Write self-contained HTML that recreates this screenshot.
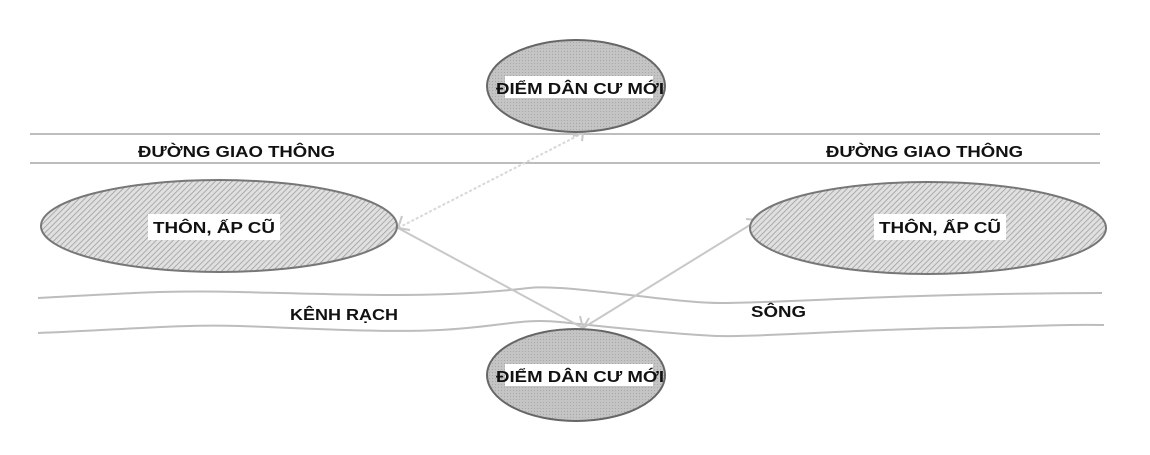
<!DOCTYPE html>
<html><head><meta charset="utf-8"><style>
html,body{margin:0;padding:0;background:#fff;width:1150px;height:455px;overflow:hidden}
svg{display:block}
text{font-family:"Liberation Sans",sans-serif;font-weight:bold;font-size:16px;fill:#111}
</style></head><body>
<svg width="1150" height="455" viewBox="0 0 1150 455">
<defs>
<pattern id="h" width="4" height="4" patternUnits="userSpaceOnUse" patternTransform="rotate(45)">
<rect width="4" height="4" fill="#e0e0e0"/><line x1="0" y1="0" x2="0" y2="4" stroke="#9a9a9a" stroke-width="1.5"/></pattern>
<pattern id="d" width="3" height="3" patternUnits="userSpaceOnUse">
<rect width="3" height="3" fill="#c4c4c4"/><rect width="1" height="1" fill="#a8a8a8"/></pattern>
</defs>
<g stroke="#bdbdbd" stroke-width="2" fill="none">
<line x1="30" y1="134" x2="1100" y2="134"/>
<line x1="30" y1="163" x2="1100" y2="163"/>
<path d="M38 298 C120 294 160 290 240 292 S400 297 470 293 S520 286 560 288 S680 303 720 303 S850 298 920 296 S1050 293 1102 293"/>
<path d="M38 333 C120 330 180 324 240 326 S380 333 440 330 S520 318 560 322 S680 335 720 336 S850 330 950 328 S1060 324 1104 325"/>
</g>
<g stroke="#c8c8c8" stroke-width="2" fill="none">
<line x1="398" y1="228" x2="583" y2="133" stroke-dasharray="3 2" stroke="#d8d8d8"/>
<line x1="398" y1="228" x2="583" y2="328"/>
<line x1="583" y1="328" x2="758" y2="220"/>
<path d="M398 228 l4 -12 M398 228 l12 2 M583 328 l-3 -12 M583 328 l6 -10 M758 220 l-12 -1 M758 220 l-5 11 M583 133 l-10 3 M583 133 l-1 8"/>
</g>
<ellipse cx="219" cy="226" rx="178" ry="46" fill="url(#h)" stroke="#777" stroke-width="2"/>
<ellipse cx="928" cy="228" rx="178" ry="46" fill="url(#h)" stroke="#777" stroke-width="2"/>
<ellipse cx="576" cy="86" rx="89" ry="46" fill="url(#d)" stroke="#666" stroke-width="2"/>
<ellipse cx="576" cy="375" rx="89" ry="46" fill="url(#d)" stroke="#666" stroke-width="2"/>
<rect x="148" y="214" width="132" height="26" fill="#fff"/>
<rect x="874" y="214" width="132" height="26" fill="#fff"/>
<rect x="505" y="76" width="148" height="22" fill="#fff"/>
<rect x="505" y="364" width="148" height="22" fill="#fff"/>
<text x="153" y="233" textLength="122" lengthAdjust="spacingAndGlyphs">THÔN, ẤP CŨ</text>
<text x="879" y="233" textLength="122" lengthAdjust="spacingAndGlyphs">THÔN, ẤP CŨ</text>
<text x="496" y="94" textLength="168" lengthAdjust="spacingAndGlyphs">ĐIỂM DÂN CƯ MỚI</text>
<text x="496" y="382" textLength="168" lengthAdjust="spacingAndGlyphs">ĐIỂM DÂN CƯ MỚI</text>
<text x="138" y="157" textLength="197" lengthAdjust="spacingAndGlyphs">ĐƯỜNG GIAO THÔNG</text>
<text x="826" y="157" textLength="197" lengthAdjust="spacingAndGlyphs">ĐƯỜNG GIAO THÔNG</text>
<text x="290" y="320" textLength="108" lengthAdjust="spacingAndGlyphs">KÊNH RẠCH</text>
<text x="751" y="317" textLength="55" lengthAdjust="spacingAndGlyphs">SÔNG</text>
</svg>
</body></html>
